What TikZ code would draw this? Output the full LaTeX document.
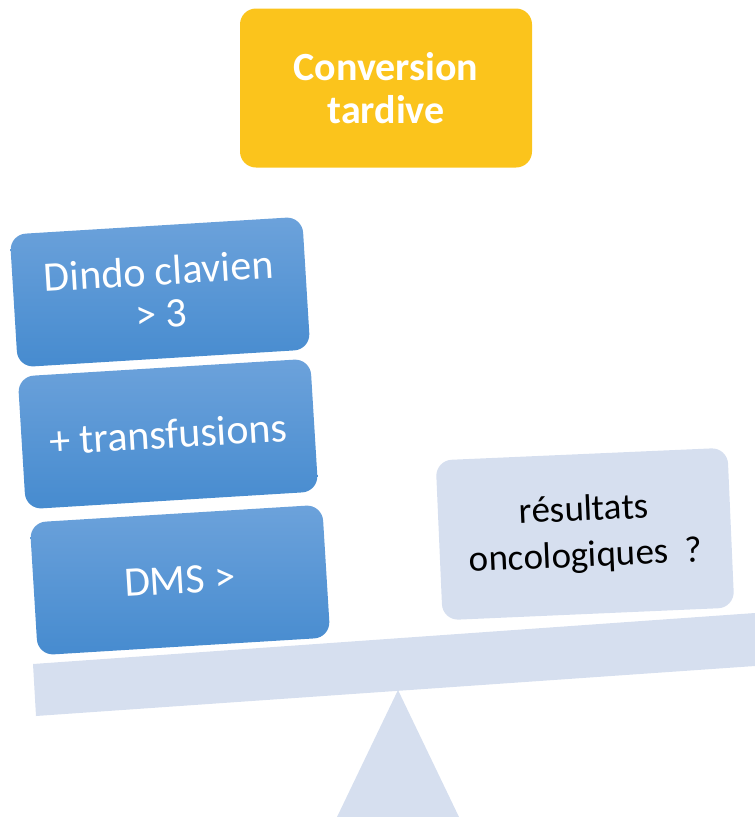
\documentclass[tikz,border=0pt]{standalone}
\usepackage{fontspec}
\setmainfont{Carlito}
\usepackage{tikz}
\usetikzlibrary{positioning}

\definecolor{gold}{RGB}{251,196,28}
\definecolor{bluetop}{RGB}{108,162,219}
\definecolor{bluebot}{RGB}{70,139,207}
\definecolor{pale}{RGB}{214,223,239}

\begin{document}
\begin{tikzpicture}[x=1pt, y=-1pt,
    card/.style={rounded corners=16pt, minimum width=293pt, minimum height=133pt, align=center,
                 text=white, font=\fontsize{42}{43}\selectfont, rotate=3.5,
                 top color=bluetop, bottom color=bluebot},
    title/.style={rounded corners=16pt, minimum width=292pt, minimum height=159pt, align=center,
                  fill=gold, text=white, font=\bfseries\fontsize{40}{43}\selectfont},
    doubt/.style={rounded corners=16pt, minimum width=292pt, minimum height=160pt, align=center,
                  fill=pale, text=black, font=\fontsize{37}{46}\selectfont, rotate=2.5}]
    \useasboundingbox (0,0) rectangle (755,817);

    % Balance {foot, beam}
    \fill [pale] (398,690) -- (459,817) -- (337,817) -- cycle;
    \fill [pale] (33,664) -- (755,613) -- (755,666) -- (36,716) -- cycle;

    % Nodes {conv, dindo, transf, dms, onco}
    \node [title] 	(conv) 		at (386,88) 	{Conversion\\tardive};
    \node [card] 	(dindo) 	at (160,292) 	{Dindo clavien\\> 3};
    \node [card] 	(transf) 	at (168,434) 	{+ transfusions};
    \node [card] 	(dms) 		at (180,580) 	{DMS >};
    \node [doubt] 	(onco) 		at (585,534) 	{résultats\\oncologiques~ ?};

\end{tikzpicture}
\end{document}
